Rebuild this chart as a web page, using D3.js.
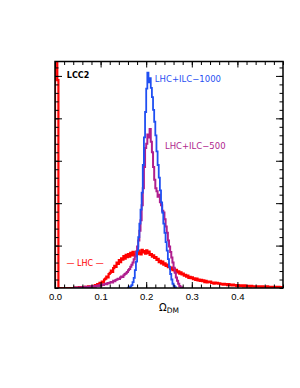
<!DOCTYPE html>
<html lang="en">
<head>
    <meta charset="UTF-8">
    <title>LCC2 Omega DM</title>
    <style>
        body { margin: 0; background: #fff; }
        svg { display: block; }
        .lbl { font-family: "DejaVu Sans", sans-serif; }
        .tick text { font-family: "Liberation Sans", Arial, sans-serif; font-size: 9.5px; fill: #000; }
    </style>
</head>
<body>
<svg/>
<script src="https://d3js.org/d3.v7.min.js"></script>
<script>
    // histogram bins (omega, arbitrary units), bin width 0.0025
    var binWidth = 0.0025;

    // LHC only, bins start at 0.0
    var lhcStart = 0.0;
    var lhc = [
        30, 7, 4.9, 0, 0, 0, 0, 0, 0, 0, 0, 0, 0, 0, 0, 0,
        0.0, 0.01, 0.0, 0.0, 0.01, 0.02, 0.0, 0.01,
        0.02, 0.0, 0.03, 0.01, 0.02, 0.04, 0.01, 0.03,
        0.03, 0.05, 0.04, 0.07, 0.06, 0.09, 0.08, 0.12,
        0.1, 0.15, 0.13, 0.2, 0.22, 0.27, 0.25, 0.33,
        0.36, 0.41, 0.38, 0.47, 0.52, 0.5, 0.6, 0.57,
        0.66, 0.61, 0.7, 0.67, 0.75, 0.69, 0.78, 0.73,
        0.8, 0.74, 0.83, 0.77, 0.85, 0.79, 0.76, 0.86,
        0.8, 0.88, 0.83, 0.79, 0.9, 0.84, 0.87, 0.81,
        0.89, 0.82, 0.86, 0.78, 0.8, 0.74, 0.77, 0.71,
        0.73, 0.66, 0.69, 0.61, 0.64, 0.58, 0.62, 0.55,
        0.58, 0.52, 0.55, 0.49, 0.5, 0.45, 0.48, 0.42,
        0.45, 0.4, 0.43, 0.37, 0.39, 0.34, 0.37, 0.32,
        0.34, 0.29, 0.31, 0.27, 0.29, 0.24, 0.26, 0.23,
        0.25, 0.21, 0.23, 0.19, 0.22, 0.18, 0.2, 0.17,
        0.19, 0.16, 0.18, 0.14, 0.17, 0.13, 0.15, 0.14,
        0.15, 0.12, 0.13, 0.1, 0.13, 0.11, 0.12, 0.1,
        0.11, 0.09, 0.1, 0.08, 0.1, 0.08, 0.09, 0.07,
        0.09, 0.07, 0.08, 0.06, 0.08, 0.06, 0.07, 0.05,
        0.07, 0.05, 0.06, 0.05, 0.06, 0.04, 0.06, 0.04,
        0.05, 0.04, 0.05, 0.03, 0.05, 0.04, 0.04, 0.03,
        0.04, 0.03, 0.04, 0.03, 0.04, 0.02, 0.04, 0.03,
        0.03, 0.02, 0.04, 0.02, 0.03, 0.02, 0.03, 0.02,
        0.03, 0.02, 0.03, 0.01, 0.03, 0.02, 0.02, 0.02
    ];

    // LHC+ILC-500
    var ilc500Start = 0.04;
    var ilc500 = [
        0.0, 0.01, 0.0, 0.01, 0.01, 0.0, 0.02, 0.01,
        0.02, 0.01, 0.03, 0.02, 0.02, 0.03, 0.02, 0.04,
        0.03, 0.04, 0.05, 0.03, 0.05, 0.06, 0.05, 0.07,
        0.06, 0.08, 0.07, 0.09, 0.1, 0.09, 0.12, 0.11,
        0.13, 0.14, 0.13, 0.17, 0.16, 0.19, 0.2, 0.22,
        0.21, 0.25, 0.27, 0.26, 0.3, 0.33, 0.35, 0.38,
        0.42, 0.45, 0.5, 0.55, 0.6, 0.68, 0.74, 0.85,
        0.98, 1.12, 1.35, 1.6, 1.95, 2.35, 2.85, 3.3,
        3.4, 3.62, 3.55, 3.75, 3.45, 3.2, 2.85, 2.55,
        2.35, 2.28, 2.15, 2.2, 2.02, 1.95, 1.82, 1.78,
        1.62, 1.45, 1.3, 1.12, 0.98, 0.85, 0.72, 0.6,
        0.48, 0.36, 0.25, 0.17, 0.1, 0.05, 0.02, 0.01
    ];

    // LHC+ILC-1000
    var ilc1000Start = 0.16;
    var ilc1000 = [
        0.01, 0.02, 0.04, 0.07, 0.14, 0.24, 0.42, 0.62,
        0.88, 1.2, 1.52, 1.85, 2.25, 2.9, 3.55, 4.15,
        4.7, 5.08, 4.85, 4.95, 4.72, 4.5, 4.2, 3.92,
        3.6, 3.22, 2.9, 2.6, 2.3, 2.02, 1.78, 1.52,
        1.3, 1.08, 0.88, 0.68, 0.5, 0.33, 0.2, 0.1,
        0.05, 0.02
    ];

    var xTickLabels = [0.0, 0.1, 0.2, 0.3, 0.4];
    var yMajorTicks = [1, 2, 3, 4, 5];

    var width = 300, height = 388;
    var margin = {top: 61.5, right: 17, bottom: 100, left: 55};
    var innerW = width - margin.left - margin.right;
    var innerH = height - margin.top - margin.bottom;

    var xScale = d3.scaleLinear().domain([0, 0.5]).range([0, innerW]);
    var yScale = d3.scaleLinear().domain([0, 5.34]).range([innerH, 0]);

    var svg = d3.select("svg")
        .attr("width", width)
        .attr("height", height);

    var g = svg.append("g")
        .attr("transform", "translate(" + margin.left + "," + margin.top + ")");

    g.append("clipPath").attr("id", "plotClip")
        .append("rect").attr("width", innerW).attr("height", innerH);

    function binPoints(start, vals) {
        var pts = [[start, 0]];
        vals.forEach(function (v, i) { pts.push([start + i * binWidth, v]); });
        pts.push([start + vals.length * binWidth, 0]);
        return pts;
    }

    var line = d3.line()
        .x(function (d) { return xScale(d[0]); })
        .y(function (d) { return yScale(d[1]); })
        .curve(d3.curveStepAfter);

    var curves = g.append("g").attr("clip-path", "url(#plotClip)");
    var series = [
        {pts: binPoints(lhcStart, lhc), color: "#ff0000", w: 2.2},
        {pts: binPoints(ilc500Start, ilc500), color: "#b01f8e", w: 2},
        {pts: binPoints(ilc1000Start, ilc1000), color: "#1f4ff2", w: 1.8}
    ];
    series.forEach(function (s) {
        curves.append("path")
            .attr("d", line(s.pts))
            .attr("fill", "none")
            .attr("stroke", s.color)
            .attr("stroke-width", s.w);
    });

    // axes, inward ticks on all four sides
    function styleAxis(sel) {
        sel.select(".domain").remove();
        sel.selectAll("line").attr("stroke", "#000").attr("stroke-width", 1);
    }
    var xMinor = d3.range(0, 0.501, 0.02);
    var yMinor = d3.range(0, 5.34, 0.2);

    g.append("g").attr("transform", "translate(0," + innerH + ")")
        .call(d3.axisBottom(xScale).tickValues(xMinor).tickSize(-3.5).tickFormat(""))
        .call(styleAxis);
    g.append("g").attr("transform", "translate(0," + innerH + ")")
        .call(d3.axisBottom(xScale).tickValues(xTickLabels).tickSizeInner(-6).tickSizeOuter(0).tickPadding(5.5)
            .tickFormat(d3.format(".1f")))
        .call(styleAxis);
    g.append("g")
        .call(d3.axisTop(xScale).tickValues(xMinor).tickSize(-3.5).tickFormat(""))
        .call(styleAxis);
    g.append("g")
        .call(d3.axisTop(xScale).tickValues(xTickLabels).tickSize(-6).tickFormat(""))
        .call(styleAxis);

    g.append("g")
        .call(d3.axisLeft(yScale).tickValues(yMinor).tickSize(-3.5).tickFormat(""))
        .call(styleAxis);
    g.append("g")
        .call(d3.axisLeft(yScale).tickValues(yMajorTicks).tickSize(-7).tickFormat(""))
        .call(styleAxis);
    g.append("g").attr("transform", "translate(" + innerW + ",0)")
        .call(d3.axisRight(yScale).tickValues(yMinor).tickSize(-3.5).tickFormat(""))
        .call(styleAxis);
    g.append("g").attr("transform", "translate(" + innerW + ",0)")
        .call(d3.axisRight(yScale).tickValues(yMajorTicks).tickSize(-7).tickFormat(""))
        .call(styleAxis);

    g.append("rect")
        .attr("width", innerW)
        .attr("height", innerH)
        .attr("fill", "none")
        .attr("stroke", "#000")
        .attr("stroke-width", 1.5);

    // labels
    g.append("text").attr("class", "lbl")
        .attr("x", xScale(0.026)).attr("y", yScale(4.96))
        .style("font-size", "8px").style("font-weight", "bold")
        .text("LCC2");

    g.append("text").attr("class", "lbl")
        .attr("x", xScale(0.219)).attr("y", yScale(4.85))
        .style("font-size", "8.5px").attr("fill", "#1f4ff2")
        .text("LHC+ILC\u22121000");

    g.append("text").attr("class", "lbl")
        .attr("x", xScale(0.241)).attr("y", yScale(3.27))
        .style("font-size", "8.5px").attr("fill", "#b01f8e")
        .text("LHC+ILC\u2212500");

    g.append("text").attr("class", "lbl")
        .attr("x", xScale(0.066)).attr("y", yScale(0.52))
        .attr("text-anchor", "middle")
        .style("font-size", "8px").attr("fill", "#ff0000")
        .text("\u2014 LHC \u2014");

    var xl = g.append("text").attr("class", "lbl")
        .attr("x", xScale(0.25)).attr("y", innerH + 23)
        .attr("text-anchor", "middle")
        .style("font-size", "10px");
    xl.append("tspan").text("\u03a9");
    xl.append("tspan").attr("dy", 2).style("font-size", "7.5px").text("DM");
</script>
</body>
</html>
